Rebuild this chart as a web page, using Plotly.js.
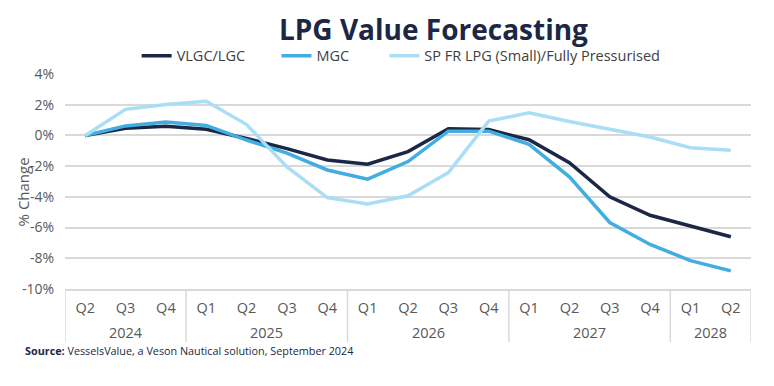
<!DOCTYPE html>
<html>
<head>
<meta charset="utf-8">
<script src="https://cdn.plot.ly/plotly-3.0.1.min.js"></script>
<style>html,body{margin:0;padding:0;background:#fff;}#chart{width:774px;height:386px;}</style>
</head>
<body>
<div id="chart"></div>
<script>
const quarters = ["Q2","Q3","Q4","Q1","Q2","Q3","Q4","Q1","Q2","Q3","Q4","Q1","Q2","Q3","Q4","Q1","Q2"];
const yearLabels = ["2024", "2025", "2026", "2027", "2028"];
const yearStart = [0, 3, 7, 11, 15];
const yearEnd = [2, 6, 10, 14, 16];
const vlgc = [0, 0.47, 0.6, 0.4, -0.2, -0.86, -1.6, -1.87, -1.05, 0.43, 0.38, -0.28, -1.78, -4.0, -5.2, -5.9, -6.6];
const mgc  = [0, 0.62, 0.87, 0.65, -0.3, -1.15, -2.25, -2.85, -1.7, 0.28, 0.28, -0.58, -2.7, -5.67, -7.1, -8.15, -8.82];
const sp   = [0, 1.7, 2.02, 2.23, 0.71, -2.05, -4.05, -4.47, -3.93, -2.42, 0.93, 1.47, 0.91, 0.43, -0.1, -0.8, -0.97];
const yTicks = [4, 2, 0, -2, -4, -6, -8, -10];
const yTickText = ["4%", "2%", "0%", "-2%", "-4%", "-6%", "-8%", "-10%"];

const font = "Open Sans, Lato, sans-serif";
const idx = quarters.map((q, i) => i);
const pad = "\u00a0\u00a0\u00a0\u00a0\u00a0\u00a0\u00a0";
const traces = [
  {x: idx, y: vlgc, name: "VLGC/LGC" + pad, type: "scatter", mode: "lines", line: {color: "#1b2744", width: 3.5}},
  {x: idx, y: mgc, name: "MGC" + pad + "\u00a0", type: "scatter", mode: "lines", line: {color: "#41ade0", width: 3.5}},
  {x: idx, y: sp, name: "SP FR LPG (Small)/Fully Pressurised", type: "scatter", mode: "lines", line: {color: "#a9def6", width: 3.5}}
];

const shapes = [];
const dividerX = [-0.5].concat(yearEnd.map(e => e + 0.5));
dividerX.forEach(dx => shapes.push({type: "line", xref: "x", yref: "paper", x0: dx, x1: dx, y0: 0, y1: -0.247, line: {color: "#d9d9d9", width: 1.5}}));

const annotations = yearLabels.map((yl, i) => ({
  xref: "x", yref: "paper", x: (yearStart[i] + yearEnd[i]) / 2, y: -0.2, text: yl, showarrow: false,
  xanchor: "center", yanchor: "middle", font: {family: font, size: 14.5, color: "#595959"}
}));
annotations.push({xref: "paper", yref: "paper", x: -0.061, y: -0.284, xanchor: "left", yanchor: "middle", showarrow: false,
  text: "<b>Source:</b> VesselsValue, a Veson Nautical solution, September 2024",
  font: {family: font, size: 10.8, color: "#1b2744"}});
annotations.push({xref: "paper", yref: "paper", x: -0.061, y: 0.45, xanchor: "center", yanchor: "middle", showarrow: false,
  textangle: -90, text: "% Change", font: {family: font, size: 15, color: "#595959"}});

const layout = {
  width: 774, height: 386,
  margin: {l: 65, r: 23, t: 74, b: 97},
  paper_bgcolor: "#fff", plot_bgcolor: "#fff",
  title: {text: "<b>LPG Value Forecasting</b>", font: {family: font, size: 28, color: "#1b2744"}, x: 0.56, xanchor: "center", y: 0.922, yanchor: "middle"},
  showlegend: true,
  legend: {orientation: "h", x: 0.49, xanchor: "center", y: 1.085, yanchor: "middle", font: {family: font, size: 14.5, color: "#404040"}},
  xaxis: {
    range: [-0.5, 16.5],
    tickvals: idx, ticktext: quarters,
    showgrid: false, zeroline: false,
    showline: true, linecolor: "#d9d9d9", linewidth: 1.5,
    tickfont: {family: font, size: 14.5, color: "#595959"},
    ticks: "", ticklabelstandoff: 5
  },
  yaxis: {
    range: [-10, 4],
    tickvals: yTicks, ticktext: yTickText,
    showgrid: true, gridcolor: "#d9d9d9", gridwidth: 1.5,
    zeroline: false, showline: false,
    tickfont: {family: font, size: 14, color: "#595959"},
    ticklabelstandoff: 10
  },
  shapes: shapes,
  annotations: annotations
};
Plotly.newPlot("chart", traces, layout, {displayModeBar: false});
</script>
</body>
</html>
